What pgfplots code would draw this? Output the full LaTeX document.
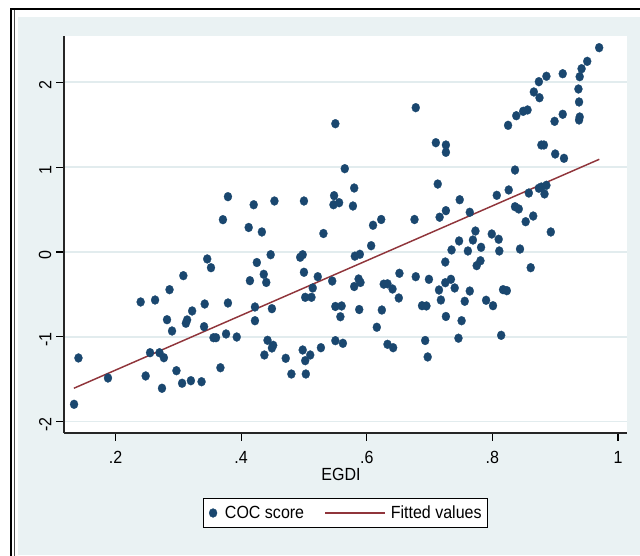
\documentclass[border=0pt]{standalone}
\usepackage{fontspec}
\setmainfont{Liberation Sans}[FakeStretch=0.91]
\usepackage{pgfplots}
\pgfplotsset{compat=1.18}
\definecolor{stnavy}{RGB}{26,71,111}
\definecolor{stmaroon}{RGB}{144,53,59}
\definecolor{stbg}{RGB}{234,242,243}
\definecolor{stgrid}{RGB}{226,236,238}
\pgfplotsset{
  cocimg/.style={legend image code/.code={\path (0pt,0pt) (9pt,0pt); \draw[mark repeat=2,mark phase=2,##1] plot coordinates {(0pt,0pt) (4.5pt,0pt) (9pt,0pt)};}},
  fitimg/.style={legend image code/.code={\draw[##1] (0pt,0pt) -- (44.6pt,0pt);}}
}
\begin{document}
\begin{tikzpicture}
\fill[white] (0,0) rectangle (480pt,417pt);
\path[use as bounding box] (0,0) rectangle (480pt,417pt);
\fill[stbg] (13.5pt,1.0pt) rectangle (480pt,404.25pt);
\draw[black,line width=1.5pt] (8.25pt,0pt) -- (8.25pt,410.25pt) -- (480pt,410.25pt);
\draw[black!70,line width=0.5pt] (10.9pt,0pt) -- (10.9pt,409.5pt);
\begin{axis}[
  at={(48pt,92.25pt)}, anchor=south west,
  scale only axis, width=422.25pt, height=297.75pt,
  xmin=0.11798, xmax=1.01433, ymin=-2.1332, ymax=2.5457,
  axis lines*=left,
  axis line style={black!85, line width=0.8pt},
  axis background/.style={fill=white},
  xtick={0.2,0.4,0.6,0.8,1}, xticklabels={.2,.4,.6,.8,1},
  ytick={-2,-1,0,1,2}, yticklabels={-2,-1,0,1,2},
  tick align=outside, major tick length=6pt,
  tick style={black, line width=0.8pt},
  ymajorgrids, grid style={stgrid, line width=1.2pt},
  ticklabel style={font=\fontsize{13.2}{15}\selectfont},
  xticklabel style={yshift=-4pt},
  yticklabel style={rotate=90, anchor=south, xshift=-2pt},
  xlabel={EGDI},
  xlabel style={font=\fontsize{13.2}{15}\selectfont, at={(axis description cs:0.492,-0.1033)}, anchor=center},
  legend columns=2,
  legend cell align=left,
  legend style={at={(0.5,-0.2015)}, anchor=center, draw=black, line width=0.6pt, fill=white,
    font=\fontsize{13.2}{15}\selectfont, inner xsep=2.6pt, inner ysep=3.5pt,
    /tikz/every odd column/.append style={column sep=2.1pt},
    /tikz/every even column/.append style={column sep=13.2pt}},
]
\addplot[only marks, mark=*, mark size=3pt, draw=stnavy, fill=stnavy,
  mark options={fill=stnavy, draw=stnavy, line width=0.2pt, yscale=1.12},
  cocimg
] table {
x y
0.134 -1.795
0.141 -1.249
0.188 -1.485
0.240 -0.589
0.263 -0.566
0.286 -0.444
0.248 -1.461
0.255 -1.187
0.270 -1.187
0.277 -1.246
0.274 -1.606
0.297 -1.399
0.306 -1.547
0.320 -1.517
0.337 -1.529
0.282 -0.798
0.290 -0.931
0.312 -0.840
0.314 -0.801
0.322 -0.695
0.342 -0.613
0.341 -0.880
0.356 -1.010
0.360 -1.010
0.376 -0.966
0.393 -1.002
0.367 -1.364
0.379 -0.601
0.308 -0.279
0.346 -0.082
0.352 -0.185
0.379 0.652
0.371 0.381
0.412 0.289
0.414 -0.338
0.433 0.236
0.531 0.218
0.447 -0.032
0.494 -0.062
0.498 -0.032
0.425 -0.124
0.500 -0.239
0.436 -0.263
0.440 -0.359
0.522 -0.291
0.545 -0.342
0.514 -0.424
0.502 -0.534
0.512 -0.534
0.422 -0.648
0.449 -0.668
0.422 -0.810
0.550 -0.642
0.560 -0.636
0.558 -0.763
0.442 -1.041
0.451 -1.100
0.449 -1.131
0.437 -1.214
0.471 -1.253
0.480 -1.438
0.498 -1.155
0.510 -1.214
0.502 -1.281
0.503 -1.438
0.527 -1.128
0.550 -1.045
0.562 -1.076
0.588 -0.678
0.624 -0.684
0.616 -0.887
0.633 -1.088
0.642 -1.128
0.641 -0.436
0.651 -0.542
0.688 -0.633
0.695 -0.636
0.693 -1.043
0.697 -1.237
0.715 -0.448
0.718 -0.566
0.740 -0.424
0.764 -0.460
0.756 -0.581
0.790 -0.569
0.801 -0.633
0.817 -0.444
0.823 -0.456
0.726 -0.760
0.751 -0.810
0.746 -1.016
0.814 -0.982
0.610 0.315
0.623 0.383
0.676 0.383
0.716 0.410
0.607 0.074
0.581 -0.049
0.589 -0.027
0.587 -0.318
0.580 -0.407
0.590 -0.359
0.652 -0.251
0.627 -0.379
0.633 -0.375
0.678 -0.291
0.699 -0.322
0.725 -0.118
0.735 0.024
0.747 0.130
0.761 0.012
0.769 0.141
0.773 0.247
0.782 0.055
0.799 0.212
0.810 0.150
0.811 0.012
0.844 0.035
0.893 0.236
0.861 -0.185
0.775 -0.161
0.781 -0.103
0.725 -0.362
0.734 -0.322
0.678 1.701
0.550 1.512
0.710 1.288
0.565 0.982
0.713 0.801
0.580 0.754
0.548 0.664
0.547 0.557
0.556 0.581
0.578 0.542
0.420 0.557
0.453 0.601
0.500 0.601
0.970 2.408
0.951 2.247
0.942 2.160
0.939 2.066
0.912 2.101
0.886 2.071
0.874 2.007
0.866 1.886
0.875 1.818
0.937 1.921
0.938 1.768
0.938 1.556
0.939 1.591
0.912 1.623
0.899 1.540
0.856 1.674
0.849 1.658
0.838 1.606
0.825 1.493
0.726 1.261
0.726 1.175
0.878 1.261
0.882 1.261
0.900 1.155
0.914 1.104
0.836 0.966
0.748 0.616
0.807 0.668
0.826 0.731
0.858 0.695
0.874 0.751
0.878 0.766
0.886 0.786
0.883 0.684
0.726 0.487
0.764 0.468
0.836 0.534
0.842 0.507
0.853 0.357
0.865 0.424
};
\addlegendentry{COC score}
\addplot[stmaroon, line width=1.1pt, no marks, fitimg] coordinates {(0.1337,-1.606) (0.9702,1.0925)};
\addlegendentry{Fitted values}
\end{axis}
\end{tikzpicture}
\end{document}
